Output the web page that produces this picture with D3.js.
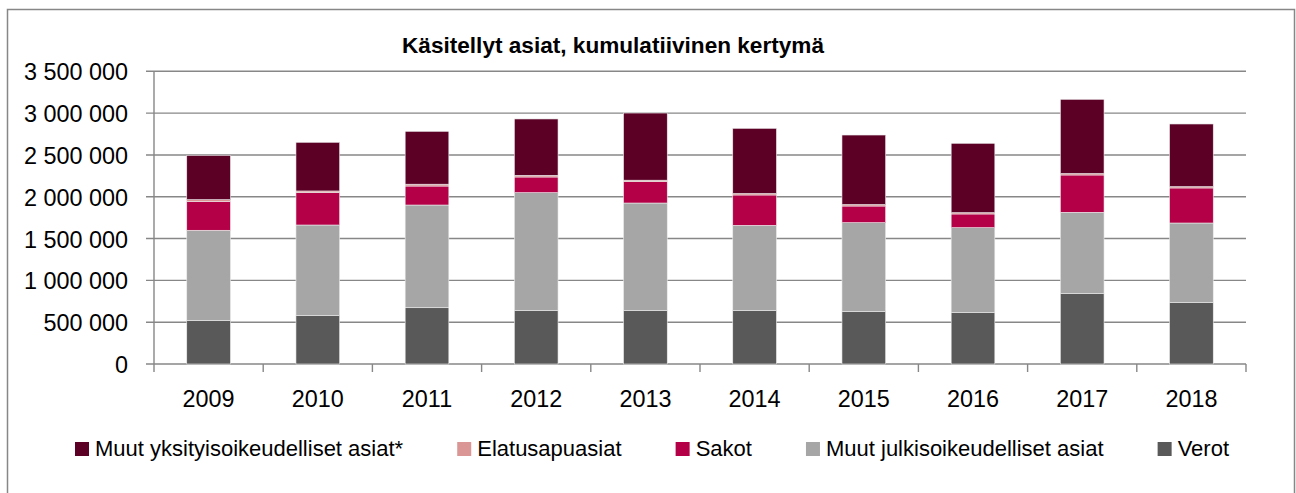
<!DOCTYPE html>
<html>
<head>
<meta charset="utf-8">
<script src="https://cdn.jsdelivr.net/npm/d3@7"></script>
<style>
  body { margin: 0; background: #fff; }
  svg { display: block; font-family: "Liberation Sans", Arial, sans-serif; }
</style>
</head>
<body>
<svg id="chart" width="1296" height="493"></svg>
<script>
// data
const years = ['2009', '2010', '2011', '2012', '2013', '2014', '2015', '2016', '2017', '2018']
const verot = [522000, 578000, 673000, 638000, 638000, 638000, 626000, 614000, 841000, 738000]
const muutJulk = [1077000, 1084000, 1228000, 1411000, 1287000, 1020000, 1064000, 1016000, 973000, 948000]
const sakot = [346000, 387000, 227000, 187000, 255000, 363000, 199000, 164000, 446000, 419000]
const elatus = [20000, 20000, 22000, 20000, 18000, 18000, 18000, 16000, 18000, 16000]
const muutYks = [530000, 582000, 632000, 674000, 803000, 779000, 831000, 829000, 887000, 749000]
const yTicks = [0, 500000, 1000000, 1500000, 2000000, 2500000, 3000000, 3500000]

// series, bottom to top
const series = [
  { name: 'Verot', values: verot, color: '#595959' },
  { name: 'Muut julkisoikeudelliset asiat', values: muutJulk, color: '#a6a6a6' },
  { name: 'Sakot', values: sakot, color: '#b30047' },
  { name: 'Elatusapuasiat', values: elatus, color: '#d99694' },
  { name: 'Muut yksityisoikeudelliset asiat*', values: muutYks, color: '#5c0026' }
]

const svg = d3.select('#chart')
const plotLeft = 154, plotRight = 1246, plotTop = 71.3, plotBottom = 364
const gridColor = '#878787'

// outer frame
svg.append('rect')
  .attr('x', 7.5).attr('y', 9.5)
  .attr('width', 1287).attr('height', 500)
  .attr('fill', 'none')
  .attr('stroke', gridColor)
  .attr('stroke-width', 1.5)

let x = d3.scaleBand()
  .domain(years)
  .range([plotLeft, plotRight])
  .paddingInner(0.6)
  .paddingOuter(0.3)

let y = d3.scaleLinear()
  .domain([0, 3500000])
  .range([plotBottom, plotTop])

// gridlines + y ticks
svg.append('g')
  .selectAll('line')
  .data(yTicks)
  .enter()
  .append('line')
  .attr('x1', plotLeft - 8)
  .attr('x2', plotRight)
  .attr('y1', (d) => y(d))
  .attr('y2', (d) => y(d))
  .attr('stroke', gridColor)
  .attr('stroke-width', 1.4)

// y axis line
svg.append('line')
  .attr('x1', plotLeft).attr('x2', plotLeft)
  .attr('y1', plotTop).attr('y2', plotBottom + 8)
  .attr('stroke', gridColor)
  .attr('stroke-width', 1.4)

// x ticks at category boundaries
const boundary = (d) => x(d) - x.step() * x.paddingOuter() + x.step()
svg.append('g')
  .selectAll('line')
  .data(years)
  .enter()
  .append('line')
  .attr('x1', boundary)
  .attr('x2', boundary)
  .attr('y1', plotBottom)
  .attr('y2', plotBottom + 8)
  .attr('stroke', gridColor)
  .attr('stroke-width', 1.4)

// y labels
svg.append('g')
  .selectAll('text')
  .data(yTicks)
  .enter()
  .append('text')
  .attr('x', 128)
  .attr('y', (d) => y(d) + 9)
  .attr('text-anchor', 'end')
  .style('font-size', '23.4px')
  .attr('fill', '#000')
  .text((d) => d3.format(',')(d).replace(/,/g, ' '))

// x labels
svg.append('g')
  .selectAll('text')
  .data(years)
  .enter()
  .append('text')
  .attr('x', (d) => x(d) + x.bandwidth() / 2)
  .attr('y', 407)
  .attr('text-anchor', 'middle')
  .style('font-size', '23.4px')
  .attr('fill', '#000')
  .text((d) => d)

// stacked bars
let rows = years.map((yr, i) => {
  let r = { year: yr }
  series.forEach((s) => { r[s.name] = s.values[i] })
  return r
})
let stacked = d3.stack().keys(series.map((s) => s.name))(rows)

svg.append('g')
  .selectAll('g')
  .data(stacked)
  .enter()
  .append('g')
  .attr('fill', (d, i) => series[i].color)
  .selectAll('rect')
  .data((d) => d)
  .enter()
  .append('rect')
  .attr('x', (d) => x(d.data.year))
  .attr('width', x.bandwidth())
  .attr('y', (d) => y(d[1]))
  .attr('height', (d) => y(d[0]) - y(d[1]))
  .attr('stroke', '#ececec')
  .attr('stroke-width', 0.6)

// title
svg.append('text')
  .attr('x', 613)
  .attr('y', 53)
  .attr('text-anchor', 'middle')
  .style('font-size', '22.6px')
  .style('font-weight', 'bold')
  .attr('fill', '#000')
  .text('Käsitellyt asiat, kumulatiivinen kertymä')

// LEGEND STUFF
// spread items so the legend runs from x=75 to x=1229 like the original
let legendOrder = series.slice().reverse()
let legend = svg.append('g')
let items = legendOrder.map((s) => {
  let item = legend.append('g')
  item.append('rect')
    .attr('x', 0).attr('y', 442)
    .attr('width', 14).attr('height', 14)
    .attr('fill', s.color)
  let t = item.append('text')
    .attr('x', 20)
    .attr('y', 456)
    .style('font-size', '22px')
    .attr('fill', '#000')
    .text(s.name)
  return { item: item, w: 20 + t.node().getComputedTextLength() }
})
let usedWidth = d3.sum(items, (d) => d.w)
let gap = (1154 - usedWidth) / (items.length - 1)
let lx = 75
items.forEach((d) => {
  d.item.attr('transform', 'translate(' + lx + ',0)')
  lx += d.w + gap
})
</script>
</body>
</html>
